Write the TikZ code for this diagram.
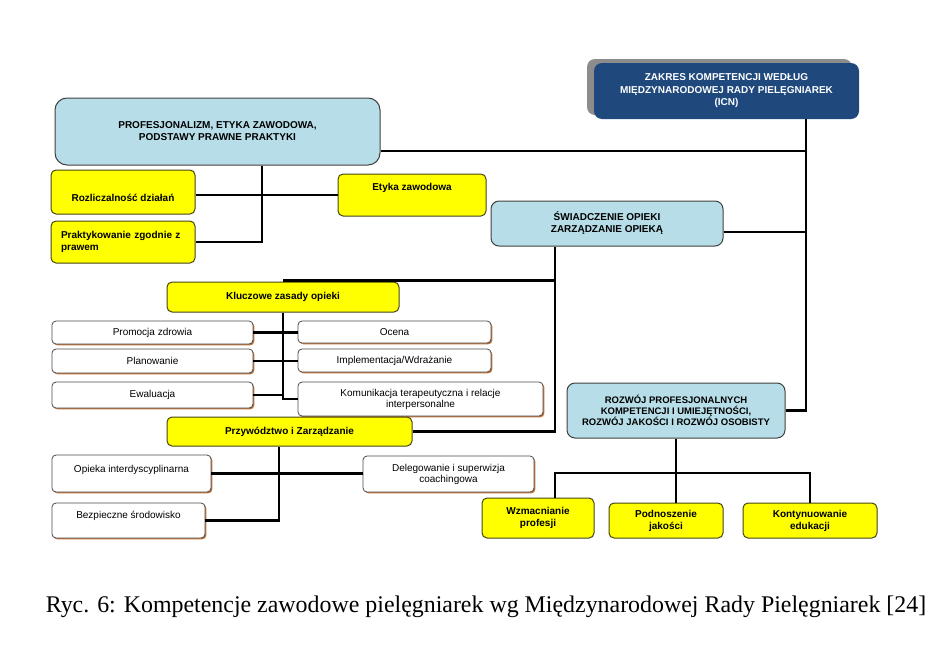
\documentclass[tikz,border=0pt]{standalone}
\usepackage{fontspec}
\setmainfont{Liberation Sans}
\newfontfamily\captionfont{Liberation Serif}
\usetikzlibrary{shadows}

\definecolor{boxyellow}{RGB}{255,255,0}
\definecolor{yellowline}{RGB}{70,70,20}
\definecolor{boxblue}{RGB}{183,222,232}
\definecolor{icnblue}{RGB}{31,73,125}
\definecolor{shadeorange}{RGB}{196,110,50}

\tikzset{
  conn/.style={line width=2.8pt},
  ybox/.style={draw=yellowline, line width=1pt, fill=boxyellow, rounded corners=5pt,
    inner sep=0pt, align=center, font=\bfseries\fontsize{10}{12}\selectfont},
  bbox/.style={draw=black!75, line width=1pt, fill=boxblue, rounded corners=8pt,
    inner sep=0pt, align=center, font=\bfseries\fontsize{10}{12}\selectfont},
  wbox/.style={draw=black!70, line width=0.8pt, fill=white, rounded corners=4pt,
    inner sep=0pt, align=center, font=\fontsize{10}{11}\selectfont,
    drop shadow={shadow xshift=1.3pt, shadow yshift=-1.3pt, fill=shadeorange, opacity=1}},
  icnbox/.style={fill=icnblue, rounded corners=8pt, inner sep=0pt, align=center,
    text=white, font=\bfseries\fontsize{10}{12.5}\selectfont,
    drop shadow={shadow xshift=-7pt, shadow yshift=4pt, fill=black!45, opacity=1}},
}

\begin{document}
\begin{tikzpicture}[x=1pt, y=-1pt]
\useasboundingbox (0,0) rectangle (947,656);
\coordinate (tr) at (806,0);
\coordinate (busA) at (262,0);
\coordinate (busC) at (555,0);
\coordinate (busD) at (279,0);
\coordinate (hbar) at (0,473);

\node[icnbox, minimum width=265pt, minimum height=56pt] (icn) at (726.5,91)
  {ZAKRES KOMPETENCJI WEDŁUG\\MIĘDZYNARODOWEJ RADY PIELĘGNIAREK\\(ICN)};
\node[bbox, rounded corners=12pt, minimum width=325pt, minimum height=67pt] (prof) at (217.5,131.5)
  {PROFESJONALIZM, ETYKA ZAWODOWA,\\PODSTAWY PRAWNE PRAKTYKI};
\node[ybox, minimum width=144pt, minimum height=44pt, text height=21pt, text depth=1.8pt] (rozl) at (123,192)
  {Rozliczalność działań};
\node[ybox, minimum width=144pt, minimum height=42pt, text width=124pt, align=left] (prakt) at (123,242)
  {Praktykowanie zgodnie z\\prawem};
\node[ybox, minimum width=148pt, minimum height=42pt, text height=7pt, text depth=15.8pt] (etyka) at (412,195)
  {Etyka zawodowa};
\node[bbox, minimum width=232pt, minimum height=45pt] (swiad) at (607,223.5)
  {ŚWIADCZENIE OPIEKI\\ZARZĄDZANIE OPIEKĄ};

\node[ybox, minimum width=232pt, minimum height=30pt] (klucz) at (283,297) {Kluczowe zasady opieki};
\node[wbox, minimum width=201pt, minimum height=23pt] (promo) at (152.5,332.5) {Promocja zdrowia};
\node[wbox, minimum width=201pt, minimum height=24pt] (plan) at (152.5,361) {Planowanie};
\node[wbox, minimum width=201pt, minimum height=26pt] (ewal) at (152.5,395) {Ewaluacja};
\node[wbox, minimum width=193pt, minimum height=22pt] (ocena) at (394.5,332) {Ocena};
\node[wbox, minimum width=193pt, minimum height=23pt] (impl) at (394.5,360.5) {Implementacja/Wdrażanie};
\node[wbox, minimum width=245pt, minimum height=34pt] (komun) at (420.5,399)
  {Komunikacja terapeutyczna i relacje\\interpersonalne};

\node[ybox, minimum width=245pt, minimum height=29pt] (przyw) at (289.5,431.5) {Przywództwo i Zarządzanie};
\node[wbox, minimum width=159pt, minimum height=37pt, text height=7pt, text depth=9.8pt] (opieka) at (131.5,473.5)
  {Opieka interdyscyplinarna};
\node[wbox, minimum width=171pt, minimum height=36pt] (deleg) at (448.5,474)
  {Delegowanie i superwizja\\coachingowa};
\node[wbox, minimum width=153pt, minimum height=35pt, text height=7pt, text depth=11.8pt] (bezp) at (128.5,520.5)
  {Bezpieczne środowisko};

\node[bbox, font=\bfseries\fontsize{9.5}{11}\selectfont, minimum width=218pt, minimum height=55pt] (rozwoj) at (676,410.5)
  {ROZWÓJ PROFESJONALNYCH\\KOMPETENCJI I UMIEJĘTNOŚCI,\\ROZWÓJ JAKOŚCI I ROZWÓJ OSOBISTY};
\node[ybox, minimum width=112pt, minimum height=40pt] (wzm) at (538,518) {Wzmacnianie\\profesji};
\node[ybox, minimum width=114pt, minimum height=35pt] (podn) at (666,520.5) {Podnoszenie\\jakości};
\node[ybox, minimum width=134pt, minimum height=35pt] (kont) at (810,520.5) {Kontynuowanie\\edukacji};

\draw[conn] (icn.south -| tr) |- (rozwoj.east);
\draw[conn] ([yshift=-19.5pt]prof.east) -- ([yshift=-19.5pt]prof.east -| tr);
\draw[conn] ([yshift=-8.5pt]swiad.east) -- ([yshift=-8.5pt]swiad.east -| tr);
\draw[conn] (prof.south -| busA) |- (prakt.east);
\draw[conn] (rozl.east |- etyka.west) -- (etyka.west);
\draw[conn] (swiad.south -| busC) |- (przyw.east);
\draw[conn] ([yshift=1pt]klucz.north) -- ([yshift=1pt]klucz.north -| busC);
\draw[conn] (klucz.south) |- (komun.west);
\draw[conn] (promo.east) -- (promo.east -| ocena.west);
\draw[conn] (plan.east) -- (plan.east -| impl.west);
\draw[conn] (ewal.east) -- (ewal.east -| klucz.south);
\draw[conn] (przyw.south -| busD) |- (bezp.east);
\draw[conn] (opieka.east) -- (opieka.east -| deleg.west);
\draw[conn] (rozwoj.south) -- (rozwoj.south |- podn.north);
\draw[conn] (wzm.north -| busC) |- (hbar -| kont.north) -- (kont.north);

\node[font=\captionfont\fontsize{23.9}{27}\selectfont] (caption) at (486,607)
  {Ryc. 6: Kompetencje zawodowe pielęgniarek wg Międzynarodowej Rady Pielęgniarek [24]};
\end{tikzpicture}
\end{document}
